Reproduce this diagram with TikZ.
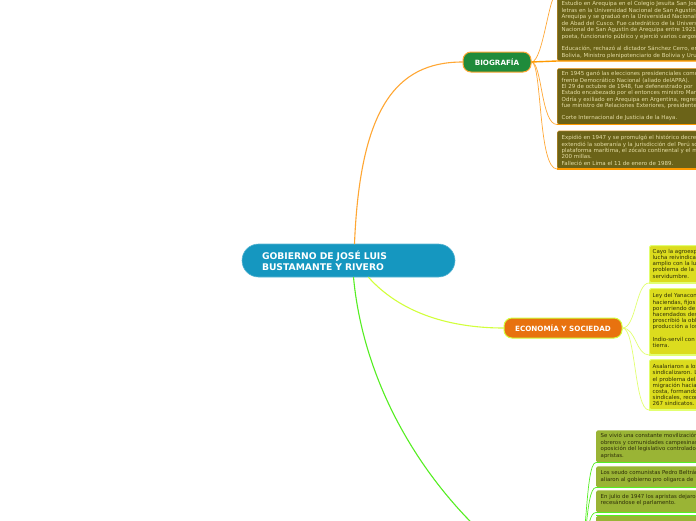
\documentclass[tikz,border=0pt]{standalone}
\usepackage{fontspec}
\setmainfont{DejaVu Sans}
\definecolor{centralblue}{HTML}{1597C0}
\definecolor{biogreen}{HTML}{1F8B3B}
\definecolor{econorange}{HTML}{E8720F}
\definecolor{orangeln}{HTML}{FFA733}
\definecolor{orangeul}{HTML}{FF9A00}
\definecolor{ygln}{HTML}{D2FF3C}
\definecolor{greenln}{HTML}{55EE22}
\definecolor{olivebox}{HTML}{6B6318}
\definecolor{olivetext}{HTML}{E6DEA6}
\definecolor{yellowbox}{HTML}{DCDC1E}
\definecolor{yellowedge}{HTML}{E2FF70}
\definecolor{greenbox}{HTML}{9AB435}
\definecolor{darktext}{HTML}{2E2E08}
\tikzset{
  topicfont/.style={font=\bfseries\fontsize{7.2}{8}\selectfont, text=white},
  mainconn/.style={line width=1.1pt, line cap=round},
  subconn/.style={line width=0.7pt, line cap=round},
  underln/.style={line width=1.4pt},
  biobox/.style={fill=olivebox, rounded corners=1.5pt, inner sep=0pt, minimum width=150pt, anchor=south west, draw=orangeln, line width=0.3pt},
  econbox/.style={fill=yellowbox, rounded corners=1.5pt, inner sep=0pt, minimum width=70pt, anchor=south west, draw=yellowedge, line width=0.8pt},
  grnbox/.style={fill=greenbox, rounded corners=1.5pt, inner sep=0pt, minimum width=110pt, anchor=south west},
  biotext/.style={font=\fontsize{5.5}{6.3}\selectfont, text=olivetext, inner sep=0pt, anchor=base west},
  econtext/.style={font=\fontsize{5.5}{6.3}\selectfont, text=darktext, inner sep=0pt, anchor=base west},
  grntext/.style={font=\fontsize{5.4}{6.3}\selectfont, text=darktext, inner sep=0pt, anchor=base west}
}
\begin{document}
\begin{tikzpicture}[x=1pt,y=-1pt]
\useasboundingbox (0,0) rectangle (696,520);
\clip (0,0) rectangle (696,520);
\fill[white] (0,0) rectangle (696,520);

% main topics
\node[fill=centralblue, draw=centralblue!70!white, line width=0.6pt, rounded corners=16.5pt,
      minimum height=33pt, text width=173pt, inner xsep=20pt, inner ysep=0pt, align=left,
      font=\bfseries\fontsize{9.2}{11}\selectfont, text=white] (central) at (348.5,260.5)
      {GOBIERNO DE JOSÉ LUIS\\BUSTAMANTE Y RIVERO};
\node[fill=biogreen, draw=orangeln, line width=1pt, rounded corners=8pt, minimum width=68pt,
      minimum height=20pt, inner sep=0pt, topicfont] (bio) at (497,62) {BIOGRAFÍA};
\node[fill=econorange, draw=ygln, line width=1pt, rounded corners=8pt, minimum width=118pt,
      minimum height=20pt, inner sep=0pt, topicfont] (econ) at (563,328) {ECONOMÍA Y SOCIEDAD};
\coordinate (third) at (530,572);
\coordinate (thirdR) at (574,572);

% main connectors
\draw[mainconn, orangeln] ([xshift=6pt]central.north) .. controls (360,110) and (395,62) .. (bio.west);
\draw[mainconn, ygln] ([xshift=20pt]central.south) .. controls (405,318) and (460,328) .. (econ.west);
\draw[mainconn, greenln] ([xshift=5pt]central.south) .. controls (365,400) and (440,510) .. (third);

% biography boxes
\coordinate (hidbox) at (557,-7);
\node[biobox, minimum height=69pt] (bioa) at (557,61) {};
\node[biobox, minimum height=56pt] (biob) at (557,124.5) {};
\node[biobox, minimum height=38pt] (bioc) at (557,169) {};
\draw[subconn, orangeln] (bio.east) .. controls (543,62) and (549,-7) .. (hidbox);
\draw[subconn, orangeln] (bio.east) .. controls (542,62) and (541,124.5) .. (biob.south west);
\draw[subconn, orangeln] (bio.east) .. controls (542,62) and (538,169) .. (bioc.south west);
\draw[underln, orangeul] (bio.east) -- (bioa.south west) -- (bioa.south east);
\draw[underln, orangeul] (biob.south west) -- (biob.south east);
\draw[underln, orangeul] (bioc.south west) -- (bioc.south east);

\foreach \t [count=\i] in {
  {Estudio en Arequipa en el Colegio Jesuita San José,},
  {letras en la Universidad Nacional de San Agustín de},
  {Arequipa y se graduó en la Universidad Nacional},
  {de Abad del Cusco. Fue catedrático de la Universidad},
  {Nacional de San Agustín de Arequipa entre 1921},
  {poeta, funcionario público y ejerció varios cargos},
  {},
  {Educación, rechazó al dictador Sánchez Cerro, embajador},
  {Bolivia, Ministro plenipotenciario de Bolivia y Uruguay}}
  \node[biotext, name=bioat\i] at (561.5, 5.8+6.45*\i-6.45) {\t};

\foreach \t [count=\i] in {
  {En 1945 ganó las elecciones presidenciales como},
  {frente Democrático Nacional (aliado delAPRA).},
  {El 29 de octubre de 1948, fue defenestrado por},
  {Estado encabezado por el entonces ministro Manuel},
  {Odría y exiliado en Arequipa en Argentina, regresó},
  {fue ministro de Relaciones Exteriores, presidente},
  {},
  {Corte Internacional de Justicia de la Haya.}}
  \node[biotext, name=biobt\i] at (561.5, 75.8+6.3*\i-6.3) {\t};

\foreach \t [count=\i] in {
  {Expidió en 1947 y se promulgó el histórico decreto},
  {extendió la soberanía y la jurisdicción del Perú sobre},
  {plataforma marítima, el zócalo continental y el mar},
  {200 millas.},
  {Falleció en Lima el 11 de enero de 1989.}}
  \node[biotext, name=bioct\i] at (561.5, 139.8+6.3*\i-6.3) {\t};

% economy boxes
\node[econbox, minimum height=37pt] (eca) at (649,283) {};
\node[econbox, minimum height=66pt] (ecb) at (649,355) {};
\node[econbox, minimum height=50pt] (ecc) at (649,410) {};
\draw[subconn, yellowedge] (econ.east) .. controls (636,328) and (636,283) .. (eca.south west);
\draw[subconn, yellowedge] (econ.east) .. controls (636,328) and (636,355) .. (ecb.south west);
\draw[subconn, yellowedge] (econ.east) .. controls (636,328) and (634,410) .. (ecc.south west);
\draw[underln, yellowedge] (eca.south west) -- (eca.south east);
\draw[underln, yellowedge] (ecb.south west) -- (ecb.south east);
\draw[underln, yellowedge] (ecc.south west) -- (ecc.south east);

\foreach \t [count=\i] in {
  {Cayo la agroexportación},
  {lucha reivindicativa},
  {amplio con la lucha},
  {problema de la tierra},
  {servidumbre.}}
  \node[econtext, name=ecat\i] at (652.5, 253.3+6.2*\i-6.2) {\t};

\foreach \t [count=\i] in {
  {Ley del Yanaconaje},
  {haciendas, fijos},
  {por arriendo de},
  {hacendados desde},
  {proscribió la obligación},
  {producción a los},
  {},
  {Indio-servil con la},
  {tierra.}}
  \node[econtext, name=ecbt\i] at (652.5, 297.8+6.2*\i-6.2) {\t};

\foreach \t [count=\i] in {
  {Asalariaron a los},
  {sindicalizaron. La},
  {el problema del},
  {migración hacia la},
  {costa, formando},
  {sindicales, reconocidos},
  {267 sindicatos.}}
  \node[econtext, name=ecct\i] at (652.5, 368.8+6.1*\i-6.1) {\t};

% third branch boxes
\node[grnbox, minimum height=32pt] (gra) at (596,462.5) {};
\node[grnbox, minimum height=21pt] (grb) at (596,487.5) {};
\node[grnbox, minimum height=22pt] (grc) at (596,512.5) {};
\node[grnbox, minimum height=30pt] (grd) at (596,546) {};
\draw[subconn, greenln] (thirdR) .. controls (588,572) and (584,462.5) .. (gra.south west);
\draw[subconn, greenln] (thirdR) .. controls (588,572) and (584,487.5) .. (grb.south west);
\draw[subconn, greenln] (thirdR) .. controls (588,572) and (584,512.5) .. (grc.south west);
\draw[underln, greenln] (gra.south west) -- (gra.south east);
\draw[underln, greenln] (grb.south west) -- (grb.south east);
\draw[underln, greenln] (grc.south west) -- (grc.south east);
\draw[line width=0.6pt, greenln] (grd.north west) -- (grd.north east);

\foreach \t [count=\i] in {
  {Se vivió una constante movilización de},
  {obreros y comunidades campesinas},
  {oposición del legislativo controlado por},
  {apristas.}}
  \node[grntext, name=grat\i] at (600.5, 437.8+6.5*\i-6.5) {\t};
\foreach \t [count=\i] in {
  {Los seudo comunistas Pedro Beltrán},
  {aliaron al gobierno pro oligarca de}}
  \node[grntext, name=grbt\i] at (600.5, 474.8+6.5*\i-6.5) {\t};
\foreach \t [count=\i] in {
  {En julio de 1947 los apristas dejaron},
  {recesándose el parlamento.}}
  \node[grntext, name=grct\i] at (600.5, 498.3+6.5*\i-6.5) {\t};
\end{tikzpicture}
\end{document}
